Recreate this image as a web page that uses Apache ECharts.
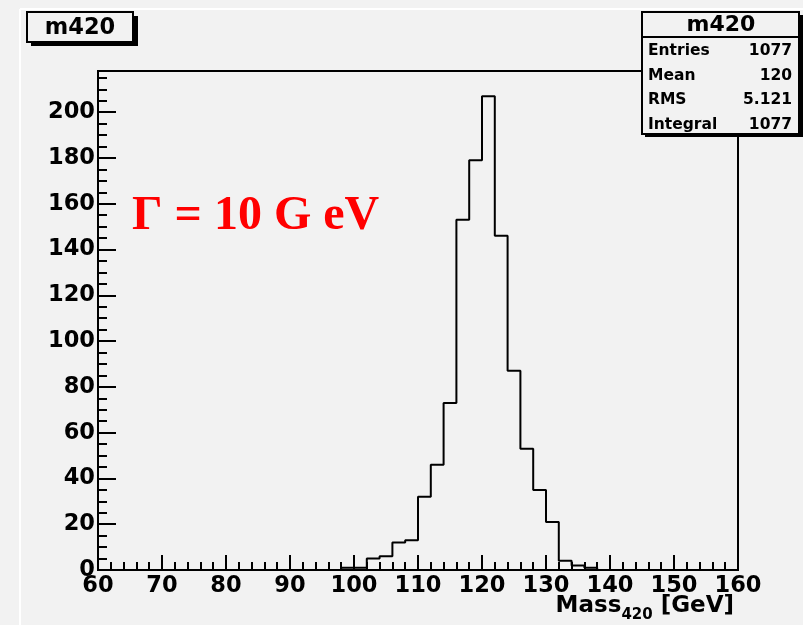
<!DOCTYPE html>
<html>
<head>
<meta charset="utf-8">
<script src="https://cdn.jsdelivr.net/npm/echarts@6/dist/echarts.min.js"></script>
<style>
  html, body { margin: 0; padding: 0; background: #f2f2f2; }
  #main { width: 803px; height: 625px; }
</style>
</head>
<body>
<div id="main"></div>
<script>
  // histogram m420: 50 bins of 2 GeV from 60 to 160
  var xMin = 60;
  var binWidth = 2;
  var counts = [
    0, 0, 0, 0, 0, 0, 0, 0, 0, 0,
    0, 0, 0, 0, 0, 0, 0, 0, 0, 1,
    1, 5, 6, 12, 13, 32, 46, 73, 153, 179,
    207, 146, 87, 53, 35, 21, 4, 2, 1, 0,
    0, 0, 0, 0, 0, 0, 0, 0, 0, 0
  ];
  var statLabels = ['Entries', 'Mean', 'RMS', 'Integral'];
  var statValues = ['1077', '120', '5.121', '1077'];

  var sans = 'DejaVu Sans';

  // step outline: one point per bin lower edge, plus the closing edge
  var stepData = [];
  for (var i = 0; i < counts.length; i++) {
    stepData.push([xMin + i * binWidth, counts[i]]);
  }
  stepData.push([xMin + counts.length * binWidth, 0]);

  var chart = echarts.init(document.getElementById('main'));

  // stats box rows
  var statRows = [];
  var rowY = [51, 76, 100, 125];
  for (var j = 0; j < statLabels.length; j++) {
    statRows.push({
      type: 'text', z: 102, x: 648, y: rowY[j],
      style: { text: statLabels[j], fill: '#000', font: 'bold 15.5px "' + sans + '"', verticalAlign: 'middle', align: 'left' }
    });
    statRows.push({
      type: 'text', z: 102, x: 792, y: rowY[j],
      style: { text: statValues[j], fill: '#000', font: 'bold 15.5px "' + sans + '"', verticalAlign: 'middle', align: 'right' }
    });
  }

  var option = {
    backgroundColor: '#f2f2f2',
    animation: false,
    grid: {
      left: 98,
      right: 65,
      top: 71,
      bottom: 55,
      show: true,
      borderColor: '#000',
      borderWidth: 2,
      backgroundColor: 'transparent'
    },
    xAxis: {
      type: 'value',
      min: 60,
      max: 160,
      interval: 10,
      axisLine: { lineStyle: { color: '#000', width: 2 } },
      axisTick: { inside: true, length: 15, lineStyle: { color: '#000', width: 2 } },
      minorTick: { show: true, splitNumber: 5, length: 8, lineStyle: { color: '#000', width: 2 } },
      splitLine: { show: false },
      axisLabel: { color: '#000', fontFamily: sans, fontWeight: 'bold', fontSize: 22.5, margin: 5 }
    },
    yAxis: [{
      type: 'value',
      min: 0,
      max: 218,
      interval: 20,
      axisLine: { lineStyle: { color: '#000', width: 2 } },
      axisTick: { inside: true, length: 18, lineStyle: { color: '#000', width: 2 } },
      splitLine: { show: false },
      axisLabel: { color: '#000', fontFamily: sans, fontWeight: 'bold', fontSize: 22.5, margin: 3, showMaxLabel: false }
    }, {
      type: 'value',
      position: 'left',
      min: 0,
      max: 218,
      interval: 5,
      axisLine: { show: false },
      axisTick: { inside: true, length: 9, lineStyle: { color: '#000', width: 2 } },
      splitLine: { show: false },
      axisLabel: { show: false }
    }],
    series: [{
      type: 'line',
      step: 'end',
      yAxisIndex: 0,
      data: stepData,
      symbol: 'none',
      lineStyle: { color: '#000', width: 2 },
      z: 5
    }],
    graphic: [
      // canvas bevel lines
      { type: 'line', shape: { x1: 20, y1: 9, x2: 803, y2: 9 }, style: { stroke: '#fff', lineWidth: 2 }, z: 1 },
      { type: 'line', shape: { x1: 20, y1: 9, x2: 20, y2: 625 }, style: { stroke: '#fff', lineWidth: 2 }, z: 1 },
      // title box
      { type: 'rect', z: 100, shape: { x: 31, y: 16, width: 107, height: 30 }, style: { fill: '#000' } },
      { type: 'rect', z: 101, shape: { x: 27, y: 12, width: 106, height: 30 }, style: { fill: '#f2f2f2', stroke: '#000', lineWidth: 2 } },
      { type: 'text', z: 102, x: 80, y: 28, style: { text: 'm420', fill: '#000', font: 'bold 22.5px "' + sans + '"', align: 'center', verticalAlign: 'middle' } },
      // stats box
      { type: 'rect', z: 100, shape: { x: 645, y: 15, width: 158, height: 122 }, style: { fill: '#000' } },
      { type: 'rect', z: 101, shape: { x: 642, y: 12, width: 157, height: 122 }, style: { fill: '#f2f2f2', stroke: '#000', lineWidth: 2 } },
      { type: 'line', z: 102, shape: { x1: 642, y1: 37, x2: 799, y2: 37 }, style: { stroke: '#000', lineWidth: 2 } },
      { type: 'text', z: 102, x: 721, y: 25, style: { text: 'm420', fill: '#000', font: 'bold 22px "' + sans + '"', align: 'center', verticalAlign: 'middle' } }
    ].concat(statRows).concat([
      // width annotation
      { type: 'text', z: 50, x: 132, y: 217, style: { text: 'Γ = 10 G eV', fill: '#ff0000', font: 'bold 48px "Liberation Serif"', align: 'left', verticalAlign: 'middle' } },
      // x axis title
      {
        type: 'text', z: 50, x: 734, y: 595,
        style: {
          text: '{a|Mass}{s|420}{a| [GeV]}',
          align: 'right',
          verticalAlign: 'top',
          rich: {
            a: { fontFamily: sans, fontWeight: 'bold', fontSize: 23, lineHeight: 26, verticalAlign: 'top', fill: '#000' },
            s: { fontFamily: sans, fontWeight: 'bold', fontSize: 15, lineHeight: 15, padding: [13, 0, 0, 0], verticalAlign: 'top', fill: '#000' }
          }
        }
      }
    ])
  };
  chart.setOption(option);
</script>
</body>
</html>
